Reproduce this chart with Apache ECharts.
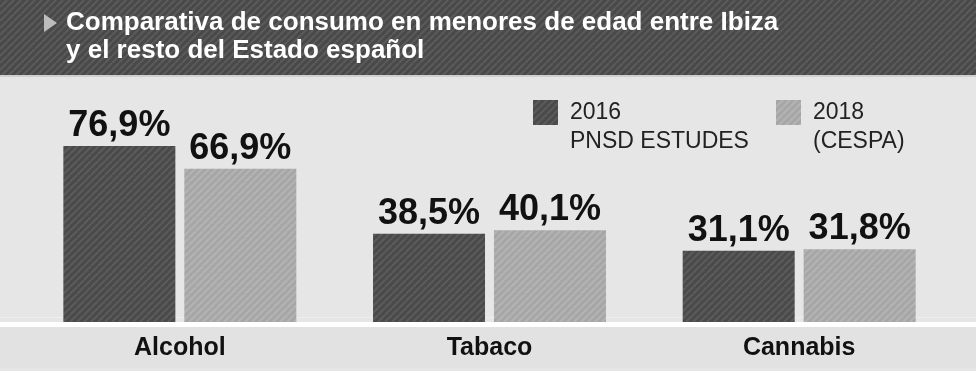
<!DOCTYPE html>
<html>
<head>
<meta charset="utf-8">
<script src="https://cdn.jsdelivr.net/npm/echarts@6/dist/echarts.min.js"></script>
<style>
html,body{margin:0;padding:0;background:#e6e6e6;}
#c{width:976px;height:371px;}
</style>
</head>
<body>
<div id="c"></div>
<script>
const titleLines = ['Comparativa de consumo en menores de edad entre Ibiza', 'y el resto del Estado español'];
const categories = ['Alcohol', 'Tabaco', 'Cannabis'];
const seriesNames = ['2016', '2018'];
const legendSubtitles = ['PNSD ESTUDES', '(CESPA)'];
const values2016 = [76.9, 38.5, 31.1];
const values2018 = [66.9, 40.1, 31.8];

function stripe(bg, fg, size, lw) {
  const c = document.createElement('canvas');
  c.width = size; c.height = size;
  const g = c.getContext('2d');
  g.fillStyle = bg; g.fillRect(0, 0, size, size);
  g.strokeStyle = fg; g.lineWidth = lw;
  for (let k = -1; k <= 1; k++) {
    g.beginPath();
    g.moveTo(k * size, size);
    g.lineTo(k * size + size, 0);
    g.stroke();
  }
  return c;
}
const darkPat = { image: stripe('#4a4a4a', '#5c5c5c', 7, 2), repeat: 'repeat' };
const lightPat = { image: stripe('#a6a6a6', '#b4b4b4', 7, 2), repeat: 'repeat' };
const headPat = { image: stripe('#494949', '#5b5b5b', 7, 2), repeat: 'repeat' };

const fmt = v => v.toFixed(1).replace('.', ',') + '%';
const FONT = '"Liberation Sans", Arial, sans-serif';

const chart = echarts.init(document.getElementById('c'), null, { renderer: 'canvas' });
const legendBase = {
  orient: 'vertical', icon: 'rect', itemWidth: 25, itemHeight: 25, padding: 0,
  selectedMode: false,
  textStyle: { fontFamily: FONT, fontSize: 23, color: '#222', lineHeight: 29, padding: [0, 0, 0, 7] }
};
chart.setOption({
  animation: false,
  backgroundColor: '#e6e6e6',
  graphic: [
    { type: 'rect', z: 0, shape: { x: 0, y: 0, width: 976, height: 75 }, style: { fill: headPat } },
    { type: 'rect', z: 0, shape: { x: 0, y: 75, width: 976, height: 2 }, style: { fill: '#cfcfcf' } },
    { type: 'rect', z: 0, shape: { x: 0, y: 317, width: 976, height: 1 }, style: { fill: '#eeeeee' } },
    { type: 'rect', z: 0, shape: { x: 0, y: 322, width: 976, height: 5 }, style: { fill: '#ffffff' } },
    { type: 'rect', z: 0, shape: { x: 0, y: 327, width: 976, height: 41 }, style: { fill: '#e2e2e2' } },
    { type: 'polygon', z: 1, shape: { points: [[44, 14], [44, 32], [57, 23]] }, style: { fill: '#bdbdbd' } },
    { type: 'text', z: 1, left: 66, top: 10, style: { text: titleLines[0], font: 'bold 26px ' + FONT, fill: '#ffffff' } },
    { type: 'text', z: 1, left: 66, top: 38, style: { text: titleLines[1], font: 'bold 26px ' + FONT, fill: '#ffffff' } }
  ],
  legend: [
    Object.assign({}, legendBase, { left: 533, top: 69, data: [seriesNames[0]],
      formatter: n => ' \n' + n + '\n' + legendSubtitles[0] }),
    Object.assign({}, legendBase, { left: 776, top: 69, data: [seriesNames[1]],
      formatter: n => ' \n' + n + '\n' + legendSubtitles[1] })
  ],
  grid: { left: 25, right: 22, top: 93, bottom: 49, containLabel: false },
  xAxis: {
    type: 'category', data: categories,
    axisLine: { show: false }, axisTick: { show: false },
    axisLabel: { margin: 14, fontFamily: FONT, fontWeight: 'bold', fontSize: 25, color: '#111' }
  },
  yAxis: { type: 'value', min: 0, max: 100, show: false, splitLine: { show: false } },
  series: [
    { name: seriesNames[0], type: 'bar', data: values2016, barWidth: 112, barGap: '8%',
      itemStyle: { color: darkPat },
      label: { show: true, position: 'top', distance: 2, formatter: p => fmt(p.value),
        fontFamily: FONT, fontWeight: 'bold', fontSize: 36, color: '#111' } },
    { name: seriesNames[1], type: 'bar', data: values2018, barWidth: 112,
      itemStyle: { color: lightPat },
      label: { show: true, position: 'top', distance: 2, formatter: p => fmt(p.value),
        fontFamily: FONT, fontWeight: 'bold', fontSize: 36, color: '#111' } }
  ]
});
</script>
</body>
</html>
